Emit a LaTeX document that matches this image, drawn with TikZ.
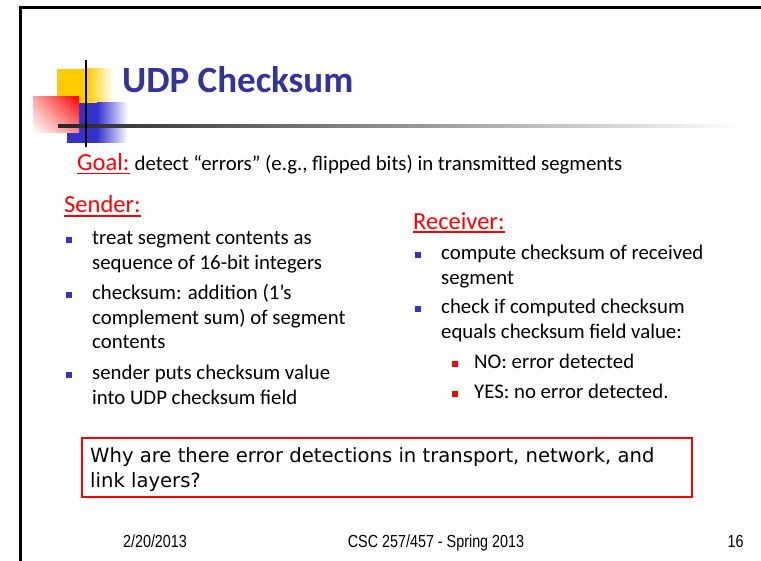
\documentclass[tikz,border=0pt]{standalone}
\usepackage{xcolor}
\usepackage{fontspec}
\setmainfont{Carlito}
\newfontfamily\footfont[FakeStretch=0.82]{Liberation Sans}
\newfontfamily\boxfont{DejaVu Sans}
\usetikzlibrary{positioning,shadings}
\definecolor{titleblue}{RGB}{51,51,153}
\definecolor{bulblue}{RGB}{51,51,204}
\definecolor{logoyellow}{RGB}{255,204,0}
\tikzset{
  txt/.style={anchor=base west, inner sep=0pt, font=\fontsize{20.8}{24.5}\selectfont},
  head/.style={anchor=base west, inner sep=0pt, text=red, font=\fontsize{24.5}{29}\selectfont},
  qtxt/.style={anchor=base west, inner sep=0pt, font=\boxfont\fontsize{19.6}{25}\selectfont},
  uline/.style={red, line width=1.3pt},
  bsq/.style={fill=bulblue, minimum size=6pt, inner sep=0pt},
  rsq/.style={fill=red, minimum size=6pt, inner sep=0pt},
  foot/.style={anchor=base, inner sep=0pt, font=\footfont\fontsize{17.5}{20}\selectfont},
}
\begin{document}
\begin{tikzpicture}[x=1pt,y=-1pt]
            \useasboundingbox (0,0) rectangle (761,561);
            %绘制幻灯片边框
            \draw[line width=3pt] (20.5,561) -- (20.5,7.5) -- (761,7.5);
            %绘制左上角的彩色方块
            \fill[logoyellow] (57,69) rectangle (87,103);
            \shade[left color=logoyellow, right color=white] (87,69) rectangle (113,103);
            \fill[bulblue] (67,103) rectangle (97,143);
            \shade[left color=bulblue, right color=white] (97,103) rectangle (128,143);
            \shade[upper right=red, lower left=white, upper left=red!35, lower right=red!45] (33,97) rectangle (79,133);
            \shade[left color=black!85, right color=white] (58,124.5) rectangle (740,127.5);
            \draw[line width=2.5pt] (86,60) -- (86,147);
            %标题
            \node[anchor=base west, inner sep=0pt, text=titleblue, font=\bfseries\fontsize{37}{44}\selectfont] (title) at (122,93) {UDP Checksum};
            %目标
            \node[head] (goal) at (77,171) {Goal:};
            \node[txt, right=4.8pt of goal.base east, anchor=base west] (goaltxt) {detect “errors” (e.g., flipped bits) in transmitted segments};
            \draw[uline] ([yshift=-2.7pt]goal.base west) -- ([yshift=-2.7pt]goal.base east);
            %发送方
            \node[head] (sender) at (64,213) {Sender:};
            \draw[uline] ([yshift=-3pt]sender.base west) -- ([yshift=-3pt]sender.base east);
            \node[txt] (s1) at (92,245) {\vtop{\hbox{treat segment contents as}\hbox{sequence of 16-bit integers}}};
            \node[txt] (s2) at (92,300) {\vtop{\hbox{checksum: addition (1’s}\hbox{complement sum) of segment}\hbox{contents}}};
            \node[txt] (s3) at (92,380) {\vtop{\hbox{sender puts checksum value}\hbox{into UDP checksum field}}};
            \foreach \y [count=\i] in {240.5,295.5,375.5}{\node[bsq] (sb\i) at (68.7,\y) {};}
            %接收方
            \node[head] (receiver) at (413,229.3) {Receiver:};
            \draw[uline] ([yshift=-2.7pt]receiver.base west) -- ([yshift=-2.7pt]receiver.base east);
            \node[txt] (r1) at (441,260) {\vtop{\hbox{compute checksum of received}\hbox{segment}}};
            \node[txt] (r2) at (441,314) {\vtop{\hbox{check if computed checksum}\hbox{equals checksum field value:}}};
            \node[txt] (r3) at (474,368.3) {NO: error detected};
            \node[txt] (r4) at (474,398.3) {YES: no error detected.};
            \foreach \y [count=\i] in {255,309}{\node[bsq] (rb\i) at (417.5,\y) {};}
            \foreach \y [count=\i] in {363.8,393.8}{\node[rsq] (rs\i) at (455,\y) {};}
            %问题框
            \draw[red, line width=1.2pt] (82,438) rectangle (692,497);
            \node[qtxt] (why1) at (90,462) {Why are there error detections in transport, network, and};
            \node[qtxt] (why2) at (90,487) {link layers?};
            %页脚
            \node[foot] (date) at (155,547) {2/20/2013};
            \node[foot] (course) at (436,547) {CSC 257/457 - Spring 2013};
            \node[foot] (page) at (735.5,547) {16};
        \end{tikzpicture}
\end{document}
